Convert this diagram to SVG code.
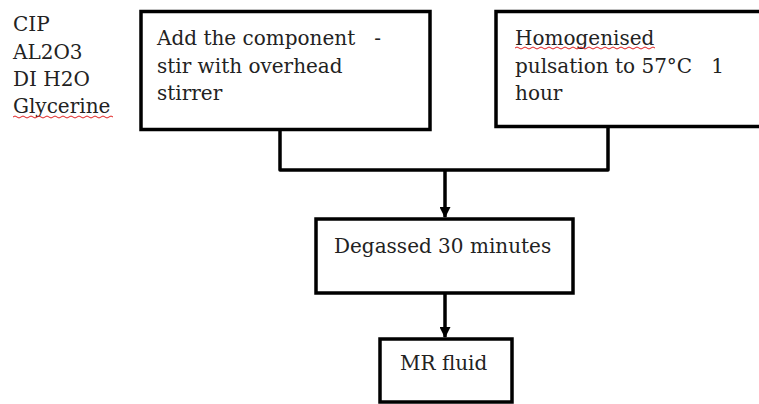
<svg xmlns="http://www.w3.org/2000/svg" width="759" height="404" viewBox="0 0 759 404">
<style>
.box{fill:#fff;stroke:#000;stroke-width:3.5}
.t{font-family:"DejaVu Serif","Liberation Serif",serif;font-size:20px;fill:#222}
.c{fill:none;stroke:#000;stroke-width:3.5;stroke-linejoin:round}
.sq{fill:none;stroke:#e02020;stroke-width:1}
</style>
<defs>
<marker id="ah" markerWidth="11" markerHeight="11" refX="10" refY="5.5" orient="auto" markerUnits="userSpaceOnUse" viewBox="0 0 11 11">
<path d="M0,0 L11,5.5 L0,11 Z" fill="#000"/>
</marker>
</defs>
<g id="ingredients">
<text class="t" x="13" y="31">CIP</text>
<text class="t" x="13" y="59">AL2O3</text>
<text class="t" x="13" y="86">DI H2O</text>
<text class="t" x="13" y="113">Glycerine</text>
<path class="sq" d="M13,117 q2,-2 4,0 t4,0 t4,0 t4,0 t4,0 t4,0 t4,0 t4,0 t4,0 t4,0 t4,0 t4,0 t4,0 t4,0 t4,0 t4,0 t4,0 t4,0 t4,0 t4,0 t4,0 t4,0 t4,0 t4,0 t4,0"/>
</g>
<g id="connectors">
<path class="c" d="M280,130 V170 H608 V127"/>
<path class="c" d="M445,170 V217" marker-end="url(#ah)"/>
<path class="c" d="M445,293 V337" marker-end="url(#ah)"/>
</g>
<g id="n1">
<rect class="box" x="141" y="11.5" width="289" height="118"/>
<text class="t" x="157" y="45" xml:space="preserve">Add the component   -</text>
<text class="t" x="157" y="73">stir with overhead</text>
<text class="t" x="157" y="100">stirrer</text>
</g>
<g id="n2">
<rect class="box" x="496" y="11.5" width="280" height="115"/>
<text class="t" x="515" y="45">Homogenised</text>
<path class="sq" d="M515,48 q2,-2 4,0 t4,0 t4,0 t4,0 t4,0 t4,0 t4,0 t4,0 t4,0 t4,0 t4,0 t4,0 t4,0 t4,0 t4,0 t4,0 t4,0 t4,0 t4,0 t4,0 t4,0 t4,0 t4,0 t4,0 t4,0 t4,0 t4,0 t4,0 t4,0 t4,0 t4,0 t4,0 t4,0 t4,0 t4,0"/>
<text class="t" x="515" y="73" xml:space="preserve">pulsation to 57°C   1</text>
<text class="t" x="515" y="100">hour</text>
</g>
<g id="n3">
<rect class="box" x="316" y="219" width="257" height="74"/>
<text class="t" x="334" y="253">Degassed 30 minutes</text>
</g>
<g id="n4">
<rect class="box" x="380" y="339" width="132" height="63"/>
<text class="t" x="400" y="370">MR fluid</text>
</g>
</svg>
